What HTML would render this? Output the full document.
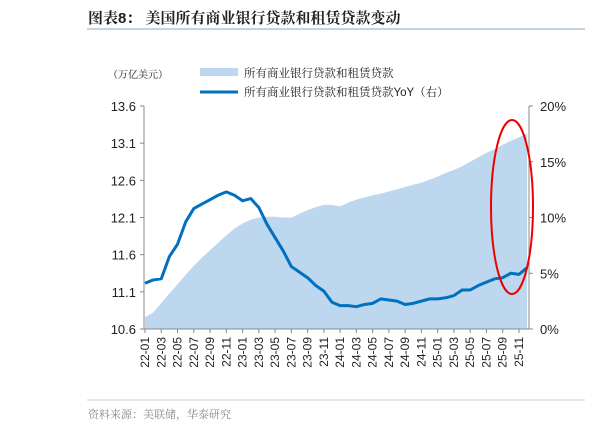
<!DOCTYPE html>
<html><head><meta charset="utf-8"><style>
body{margin:0;background:#fff;width:616px;height:434px;overflow:hidden;font-family:"Liberation Sans","Noto Sans CJK SC",sans-serif}
</style></head><body>
<svg width="616" height="434" xmlns="http://www.w3.org/2000/svg">
<text x="88" y="23" font-size="15" font-weight="bold" fill="#222" font-family="'Liberation Sans','Noto Serif CJK SC',serif">图表8：  美国所有商业银行贷款和租赁贷款变动</text>
<line x1="87" y1="29" x2="585" y2="29" stroke="#8aa7c4" stroke-width="1"/>
<text x="108" y="78" font-size="10" fill="#222" font-family="'Liberation Sans','Noto Serif CJK SC',serif">（万亿美元）</text>
<rect x="200" y="68" width="38" height="8" fill="#bdd7ee"/>
<text x="244" y="77" font-size="11.5" fill="#222" font-family="'Liberation Sans','Noto Serif CJK SC',serif">所有商业银行贷款和租赁贷款</text>
<line x1="200" y1="92" x2="238" y2="92" stroke="#0070c0" stroke-width="3"/>
<text x="244" y="96" font-size="11.5" fill="#222" font-family="'Liberation Sans','Noto Serif CJK SC',serif">所有商业银行贷款和租赁贷款YoY（右）</text>
<g id="plot"></g>
<ellipse cx="512" cy="207" rx="21" ry="87" fill="none" stroke="#e00" stroke-width="2"/>
<line x1="87" y1="400" x2="585" y2="400" stroke="#ccc"/>
<text x="88" y="418" font-size="11" fill="#888" font-family="'Liberation Sans','Noto Serif CJK SC',serif">资料来源：美联储，华泰研究</text>
</svg>
<script>
const tickLabels=["22-01","22-03","22-05","22-07","22-09","22-11","23-01","23-03","23-05","23-07","23-09","23-11","24-01","24-03","24-05","24-07","24-09","24-11","25-01","25-03","25-05","25-07","25-09","25-11"];
const leftTicks=[10.6,11.1,11.6,12.1,12.6,13.1,13.6];
const rightTicks=[0,5,10,15,20];
const loans=[10.76,10.82,10.95,11.08,11.2,11.33,11.45,11.56,11.66,11.76,11.86,11.95,12.02,12.07,12.10,12.11,12.11,12.10,12.10,12.15,12.2,12.24,12.27,12.27,12.25,12.3,12.34,12.37,12.4,12.42,12.45,12.48,12.51,12.54,12.57,12.61,12.65,12.7,12.74,12.79,12.85,12.91,12.97,13.02,13.08,13.13,13.18,13.23];
const yoy=[4.1,4.4,4.5,6.5,7.6,9.6,10.8,11.2,11.6,12.0,12.3,12.0,11.5,11.7,10.9,9.4,8.2,7.0,5.6,5.1,4.6,3.9,3.4,2.4,2.1,2.1,2.0,2.2,2.3,2.7,2.6,2.5,2.2,2.3,2.5,2.7,2.7,2.8,3.0,3.5,3.5,3.9,4.2,4.5,4.6,5.0,4.9,5.5];
const NS="http://www.w3.org/2000/svg",g=document.getElementById('plot');
const X0=145,DX=8.13,TOP=106,BOT=329,L=144,R=529;
const x=m=>X0+DX*m;
const yL=v=>BOT-(v-10.6)/3.0*(BOT-TOP);
const yR=v=>BOT-v/20*(BOT-TOP);
function mk(t,a){const e=document.createElementNS(NS,t);for(const k in a)e.setAttribute(k,a[k]);g.appendChild(e);return e;}
let d=`M${x(0)},${BOT}`;loans.forEach((v,i)=>d+=`L${x(i)},${yL(v)}`);d+=`L${x(loans.length-1)},${BOT}Z`;
const area=mk('path',{d:d,fill:'#bdd7ee'});


const ld=yoy.map((v,i)=>(i?'L':'M')+x(i)+','+yR(v)).join('');
const line=mk('path',{d:ld,fill:'none',stroke:'#0070c0','stroke-width':3,'stroke-linejoin':'round'});


const ax=mk('path',{d:`M${L},${TOP}V${BOT}H${R}V${TOP}`,fill:'none',stroke:'#888'});


leftTicks.forEach(v=>{mk('line',{x1:L-4,x2:L,y1:yL(v),y2:yL(v),stroke:'#888'});
const t=mk('text',{x:L-8,y:yL(v)+5,'font-size':13,'text-anchor':'end',fill:'#222'});t.textContent=v.toFixed(1);

});
rightTicks.forEach(v=>{mk('line',{x1:R,x2:R+4,y1:yR(v),y2:yR(v),stroke:'#888'});
const t=mk('text',{x:R+11,y:yR(v)+5,'font-size':13,fill:'#222'});t.textContent=v+'%';

});
tickLabels.forEach((s,i)=>{const xx=x(i*2);mk('line',{x1:xx,x2:xx,y1:BOT,y2:BOT+4,stroke:'#888'});
const t=mk('text',{x:0,y:0,'font-size':12,'text-anchor':'end',fill:'#222',transform:`translate(${xx+4},${BOT+8}) rotate(-90)`});t.textContent=s;

});
</script>
</body></html>
